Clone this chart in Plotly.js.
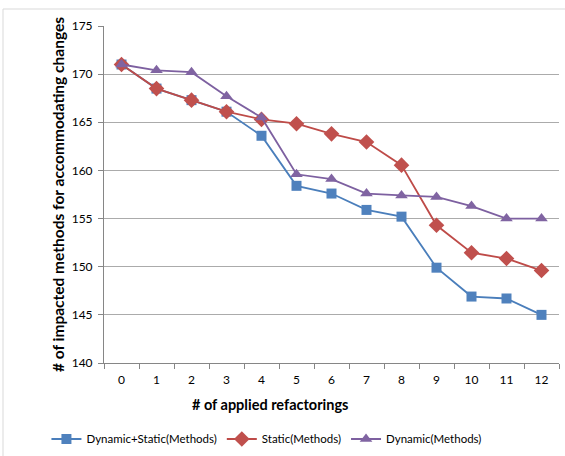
<!DOCTYPE html>
<html>
<head>
<meta charset="utf-8">
<script src="https://cdn.plot.ly/plotly-3.0.1.min.js"></script>
<style>html,body{margin:0;padding:0;background:#fff;}#chart{width:565px;height:456px;}</style>
</head>
<body>
<div id="chart"></div>
<script>
var categories = ["0","1","2","3","4","5","6","7","8","9","10","11","12"];
var dynStatic = [171, 168.5, 167.3, 166.1, 163.6, 158.4, 157.6, 155.9, 155.2, 149.9, 146.9, 146.7, 145];
var staticM   = [171, 168.5, 167.3, 166.1, 165.3, 164.85, 163.8, 162.95, 160.55, 154.3, 151.45, 150.85, 149.6];
var dynamicM  = [171, 170.4, 170.2, 167.7, 165.5, 159.6, 159.1, 157.6, 157.4, 157.25, 156.3, 155, 155];
var seriesNames = ["Dynamic+Static(Methods)", "Static(Methods)", "Dynamic(Methods)"];
var xTitle = "# of applied refactorings";
var yTitle = "# of impacted methods for accommodating changes";

var font = "Lato, 'Open Sans', sans-serif";
var traces = [
  {x: categories, y: dynStatic, name: seriesNames[0], type: "scatter", mode: "lines+markers",
   line: {color: "#4A7EBB", width: 1.8}, marker: {symbol: "square", size: 10, color: "#4F81BD"}},
  {x: categories, y: staticM, name: seriesNames[1], type: "scatter", mode: "lines+markers",
   line: {color: "#BE4B48", width: 1.8}, marker: {symbol: "diamond", size: 12, color: "#C0504D"}},
  {x: categories, y: dynamicM, name: seriesNames[2], type: "scatter", mode: "lines+markers",
   line: {color: "#7D60A0", width: 1.8}, marker: {symbol: "triangle-up", size: 11, color: "#8064A2"}}
];

var layout = {
  width: 565, height: 456,
  margin: {l: 104, r: 6, t: 26, b: 93, autoexpand: false},
  paper_bgcolor: "#fff", plot_bgcolor: "#fff",
  font: {family: font, size: 12, color: "#000"},
  showlegend: true,
  legend: {orientation: "h", x: 0.357, xanchor: "center", y: -0.2255, yanchor: "middle",
           font: {family: font, size: 11.5, color: "#000"}, itemwidth: 30, traceorder: "normal"},
  xaxis: {type: "category", range: [-0.5, 12.5], tickson: "boundaries", ticks: "outside", ticklen: 5,
          tickcolor: "#868686", showline: true, linecolor: "#868686", linewidth: 1, showgrid: false,
          zeroline: false, tickfont: {family: font, size: 12}, ticklabelstandoff: 6, automargin: false},
  yaxis: {range: [140, 175], dtick: 5, ticks: "outside", ticklen: 5, tickcolor: "#868686",
          showline: true, linecolor: "#868686", linewidth: 1, showgrid: true, gridcolor: "#ABABAB",
          gridwidth: 1, zeroline: false, tickfont: {family: font, size: 12}, ticklabelstandoff: 3,
          automargin: false,
          title: {text: "<b>" + yTitle + "</b>", font: {family: font, size: 15.5}, standoff: 3}},
  annotations: [{text: "<b>" + xTitle + "</b>", xref: "paper", yref: "paper",
                 x: (270 - 104) / 455, y: (363 - 404) / 337, xanchor: "center", yanchor: "middle",
                 showarrow: false, font: {family: font, size: 14.5, color: "#000"}}],
  shapes: [{type: "rect", xref: "paper", yref: "paper",
            x0: (3 - 104) / 455, x1: 1.05, y0: -0.3, y1: 1 + 17 / 337,
            line: {color: "#D9D9D9", width: 1}, fillcolor: "rgba(0,0,0,0)", layer: "below"}]
};
Plotly.newPlot("chart", traces, layout, {displayModeBar: false, staticPlot: true});
</script>
</body>
</html>
